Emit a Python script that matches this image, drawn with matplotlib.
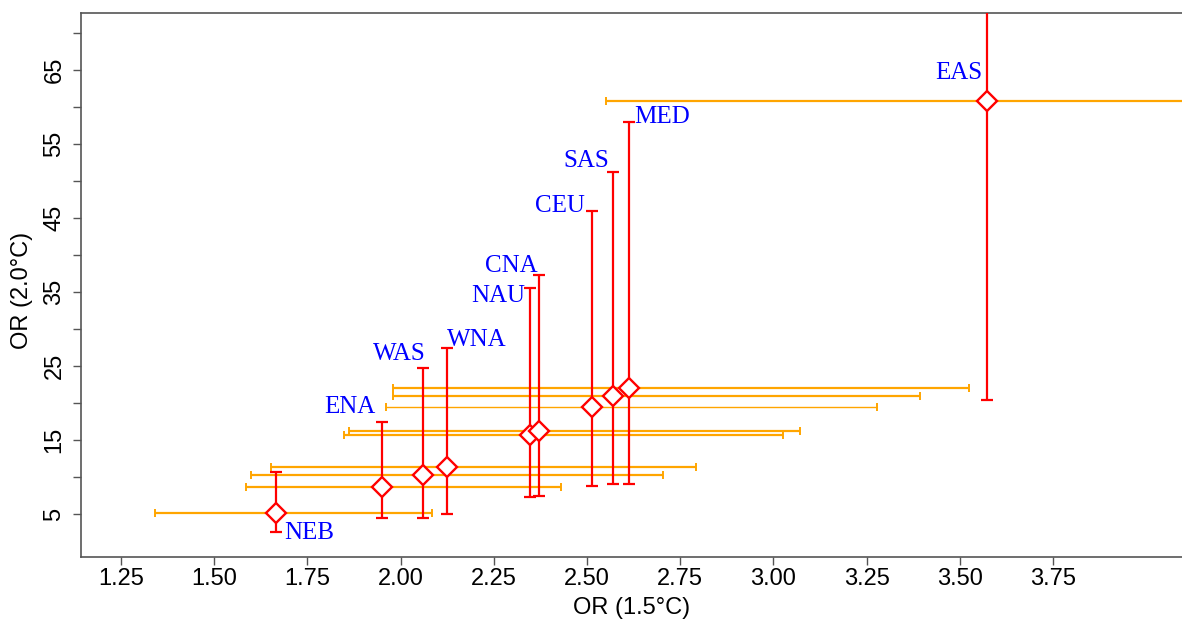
import matplotlib
matplotlib.use("Agg")
import matplotlib.pyplot as plt
import numpy as np

regions = ["NEB", "ENA", "WAS", "WNA", "NAU", "CNA", "CEU", "SAS", "MED", "EAS"]
or15 = [1.667, 1.951, 2.059, 2.124, 2.348, 2.371, 2.513, 2.570, 2.613, 3.574]
or15_lo = [1.341, 1.585, 1.600, 1.652, 1.849, 1.861, 1.961, 1.980, 1.980, 2.550]
or15_hi = [2.084, 2.430, 2.705, 2.792, 3.026, 3.071, 3.277, 3.392, 3.526, 4.600]
or20 = [5.09, 8.61, 10.25, 11.38, 15.75, 16.25, 19.54, 20.96, 22.07, 60.88]
or20_lo = [2.53, 4.42, 4.50, 5.00, 7.26, 7.43, 8.83, 9.06, 9.06, 20.42]
or20_hi = [10.64, 17.48, 24.68, 27.45, 35.56, 37.29, 46.01, 51.29, 58.05, 80.0]

xticks = [1.25, 1.50, 1.75, 2.00, 2.25, 2.50, 2.75, 3.00, 3.25, 3.50, 3.75]
yticks = list(range(5, 75, 5))
ylabels_shown = [5, 15, 25, 35, 45, 55, 65]

# label placement (pixels offset from upper end of the 2.0C interval), style only
label_off = {
    "NEB": (7.5, -67, "left"), "ENA": (-6.5, 9, "right"), "WAS": (3.5, 8, "right"),
    "WNA": (-0.3, 2.4, "left"), "NAU": (-5.5, -13.6, "right"), "CNA": (-1.7, 3.7, "right"),
    "CEU": (-7, -0.9, "right"), "SAS": (-4, 4.4, "right"), "MED": (5, -1.6, "left"),
    "EAS": (-5.5, -120, "right"),
}

W, H = 1182, 620
fig = plt.figure(figsize=(W / 100, H / 100), dpi=100)
L, B, T = 80.7, 557, 12.7
ax = fig.add_axes([L / W, (H - B) / H, (W - L) / W, (B - T) / H])
ax.set_xlim(1.142, 4.096)
ax.set_ylim(-0.81, 72.79)

x = np.array(or15); y = np.array(or20)
xl = np.array(or15_lo); xh = np.array(or15_hi)
yl = np.array(or20_lo); yh = np.array(or20_hi)

eb = ax.errorbar(x, y, xerr=[x - xl, xh - x], fmt="none", ecolor="#FFA500",
                 elinewidth=1.6, capsize=3, capthick=1.4, zorder=2)
lw = [1.6] * len(regions)
lw[regions.index("CEU")] = 1.0
eb[2][0].set_linewidths(lw)

ax.errorbar(x, y, yerr=[y - yl, yh - y], fmt="none", ecolor="#FF0000",
            elinewidth=1.6, capsize=4, capthick=1.6, zorder=3)
ax.plot(x, y, linestyle="none", marker="D", markersize=10, markerfacecolor="white",
        markeredgecolor="#FF0000", markeredgewidth=1.7, zorder=4)

for i, r in enumerate(regions):
    dx, dy, ha = label_off[r]
    ax.annotate(r, xy=(x[i], yh[i]), xytext=(dx, dy), textcoords="offset pixels",
                ha=ha, va="baseline", color="#0000FF", fontsize=18,
                family="Liberation Serif", zorder=5, annotation_clip=False)

for s in ["left", "bottom", "top"]:
    ax.spines[s].set_color("#555555")
    ax.spines[s].set_linewidth(1.2)
ax.spines["right"].set_visible(False)

ax.set_xticks(xticks)
ax.set_xticklabels([f"{v:.2f}" for v in xticks], family="Liberation Sans", fontsize=17)
ax.set_yticks(yticks)
ax.set_yticklabels([str(v) if v in ylabels_shown else "" for v in yticks],
                   family="Liberation Sans", fontsize=17, rotation=90, va="center")
ax.tick_params(axis="x", length=6, width=1, color="#555555", pad=2)
ax.tick_params(axis="y", length=6, width=1, color="#555555", pad=5)

fig.text(632 / W, 1 - 608 / H, "OR (1.5\u00b0C)", ha="center", va="center",
         family="Liberation Sans", fontsize=17)
fig.text(22 / W, 1 - 290 / H, "OR (2.0\u00b0C)", ha="center", va="center",
         rotation=90, family="Liberation Sans", fontsize=17)

fig.savefig("out.png", dpi=100)
